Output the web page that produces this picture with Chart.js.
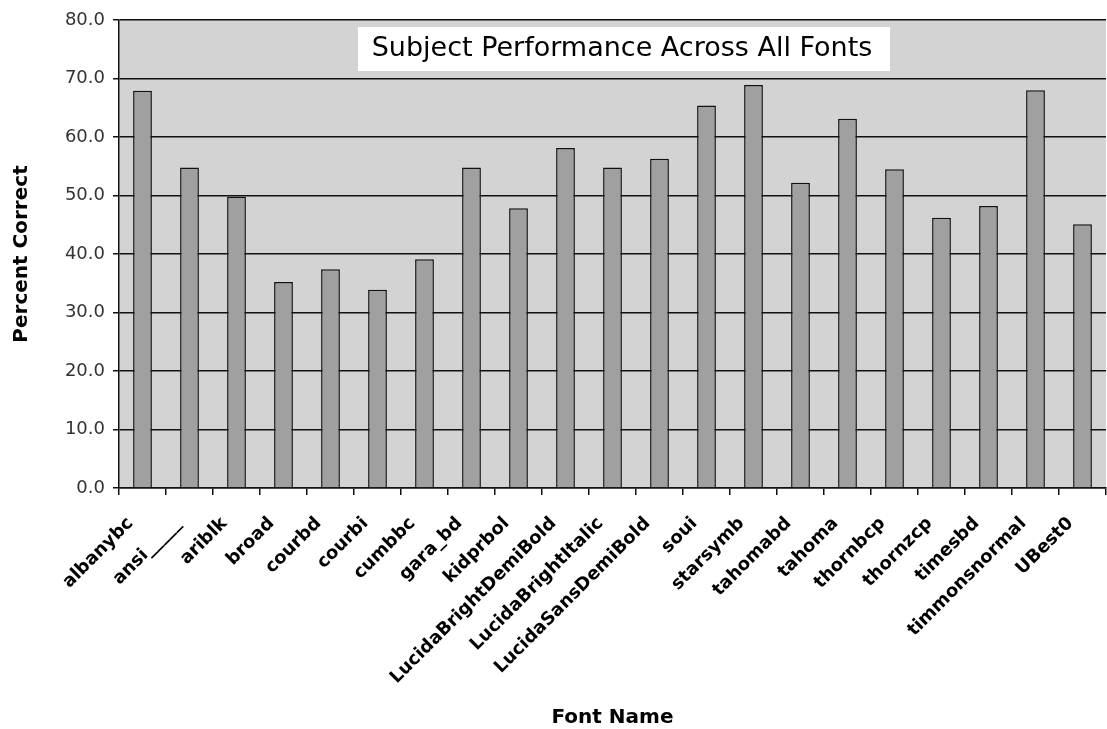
<!DOCTYPE html>
<html>
<head>
<meta charset="utf-8">
<title>Subject Performance Across All Fonts</title>
<script src="https://cdn.jsdelivr.net/npm/chart.js@4/dist/chart.umd.min.js"></script>
<style>
  html, body { margin: 0; padding: 0; background: #fff; }
  #chart { display: block; }
</style>
</head>
<body>
<canvas id="chart" width="1107" height="729"></canvas>
<script>
// Data
const fontNames = ['albanybc', 'ansi_____', 'ariblk', 'broad', 'courbd', 'courbi', 'cumbbc',
  'gara_bd', 'kidprbol', 'LucidaBrightDemiBold', 'LucidaBrightItalic', 'LucidaSansDemiBold',
  'soui', 'starsymb', 'tahomabd', 'tahoma', 'thornbcp', 'thornzcp', 'timesbd',
  'timmonsnormal', 'UBest0'];
const percentCorrect = [67.9, 54.8, 49.8, 35.2, 37.4, 33.9, 39.1,
  54.8, 47.8, 58.1, 54.8, 56.3,
  65.4, 68.9, 52.2, 63.1, 54.5, 46.2, 48.2,
  68.0, 45.1];
const yTicks = [0, 10, 20, 30, 40, 50, 60, 70, 80];

const chartTitle = 'Subject Performance Across All Fonts';

// Grey plot background + white title box inside the plot
const plotDecor = {
  id: 'plotDecor',
  beforeDraw(chart) {
    const { ctx, chartArea } = chart;
    ctx.save();
    ctx.fillStyle = '#d3d3d3';
    ctx.fillRect(chartArea.left, chartArea.top, chartArea.right - chartArea.left, chartArea.bottom - chartArea.top);
    ctx.restore();
  },
  afterDatasetsDraw(chart) {
    const { ctx } = chart;
    ctx.save();
    ctx.fillStyle = '#ffffff';
    ctx.fillRect(358, 27, 532, 44);
    ctx.fillStyle = '#000000';
    ctx.font = '27px "DejaVu Sans"';
    ctx.textAlign = 'center';
    ctx.textBaseline = 'middle';
    ctx.fillText(chartTitle, 622, 49);
    ctx.restore();
  }
};

const ctx = document.getElementById('chart').getContext('2d');
new Chart(ctx, {
  type: 'bar',
  data: {
    labels: fontNames,
    datasets: [{
      label: 'Percent Correct',
      data: percentCorrect,
      backgroundColor: '#a0a0a0',
      borderColor: '#111111',
      borderWidth: 1.5,
      categoryPercentage: 1.0,
      barPercentage: 0.4
    }]
  },
  options: {
    responsive: false,
    devicePixelRatio: 1,
    animation: false,
    layout: {
      padding: { top: 20, right: 1, left: 0, bottom: 0 }
    },
    plugins: {
      legend: { display: false },
      tooltip: { enabled: false }
    },
    scales: {
      x: {
        afterFit(scale) {
          scale.height = 241;
          scale.paddingRight = 0;
        },
        border: { display: true, color: '#111', width: 1.5 },
        grid: {
          offset: true,
          drawOnChartArea: false,
          drawTicks: true,
          tickLength: 7,
          color: '#111',
          lineWidth: 1.5
        },
        ticks: {
          minRotation: 45,
          maxRotation: 45,
          autoSkip: false,
          padding: 18,
          labelOffset: -12,
          color: '#000',
          font: { family: '"DejaVu Sans"', size: 18, weight: 'bold' }
        },
        title: {
          display: true,
          text: 'Font Name',
          color: '#000',
          padding: { top: 0, bottom: -1 },
          font: { family: '"DejaVu Sans"', size: 20, weight: 'bold' }
        }
      },
      y: {
        min: 0,
        max: 80,
        afterFit(scale) { scale.width = 119; },
        afterBuildTicks(scale) { scale.ticks = yTicks.map(v => ({ value: v })); },
        border: { display: true, color: '#111', width: 1.5 },
        grid: {
          color: '#111',
          lineWidth: 1.5,
          tickLength: 6
        },
        ticks: {
          padding: 8,
          color: '#333',
          font: { family: '"DejaVu Sans"', size: 18 },
          callback: value => value.toFixed(1)
        },
        title: {
          display: true,
          text: 'Percent Correct',
          color: '#000',
          padding: { top: 10, bottom: 0 },
          font: { family: '"DejaVu Sans"', size: 20, weight: 'bold' }
        }
      }
    }
  },
  plugins: [plotDecor]
});
</script>
</body>
</html>
